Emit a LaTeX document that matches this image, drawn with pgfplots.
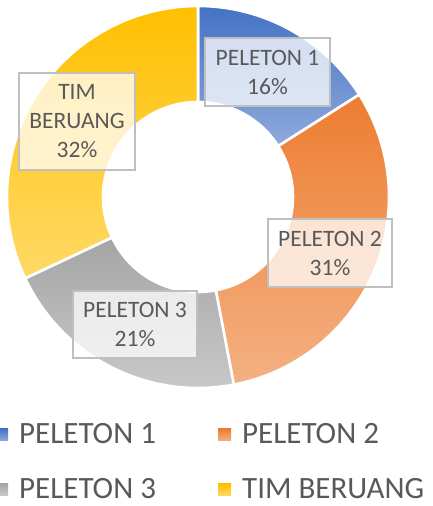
\documentclass[border=0pt]{standalone}
\usepackage{pgfplots}
\pgfplotsset{compat=1.18}
\usepackage{pgfplotstable}
\usepackage{fontspec}
\setmainfont{Carlito}
\definecolor{txt}{HTML}{595959}
\definecolor{bordc}{HTML}{BFBFBF}
\definecolor{bA}{HTML}{4472C4}\definecolor{bB}{HTML}{8FAADC}
\definecolor{oA}{HTML}{ED7D31}\definecolor{oB}{HTML}{F4B183}
\definecolor{gA}{HTML}{A5A5A5}\definecolor{gB}{HTML}{CBCBCB}
\definecolor{yA}{HTML}{FFC000}\definecolor{yB}{HTML}{FFD966}
\pgfplotstableread[col sep=comma]{
label,pct
PELETON 1,16
PELETON 2,31
PELETON 3,21
TIM BERUANG,32
}\shares
\newcommand\wedgepath[4]{%
  \path[top color=#3, bottom color=#4, draw=white, line width=2.6pt]
    ([shift={(#1:191pt)}]C) arc[start angle=#1, end angle=#2, radius=191pt]
    -- ([shift={(#2:95pt)}]C) arc[start angle=#2, end angle=#1, radius=95pt] -- cycle;}
\tikzset{lbl/.style={draw=bordc, line width=1.3pt, fill=white, fill opacity=0.75,
  text opacity=1, text=txt, align=center, inner sep=0pt,
  font=\fontsize{23.5}{29}\selectfont},
  leg/.style={anchor=base west, inner sep=0pt, text=txt, font=\fontsize{31}{36}\selectfont}}
\begin{document}%
\pgfplotstablegetelem{0}{pct}\of\shares \let\pA\pgfplotsretval%
\pgfplotstablegetelem{1}{pct}\of\shares \let\pB\pgfplotsretval%
\pgfplotstablegetelem{2}{pct}\of\shares \let\pC\pgfplotsretval%
\pgfplotstablegetelem{3}{pct}\of\shares \let\pD\pgfplotsretval%
\pgfmathsetmacro\aA{90}%
\pgfmathsetmacro\aB{\aA-3.6*\pA}%
\pgfmathsetmacro\aC{\aB-3.6*\pB}%
\pgfmathsetmacro\aD{\aC-3.6*\pC}%
\pgfmathsetmacro\aE{\aD-3.6*\pD}%
\begin{tikzpicture}
\begin{axis}[width=432pt, height=506pt, scale only axis, at={(0pt,0pt)}, anchor=south west,
  xmin=0, xmax=432, ymin=0, ymax=506, hide axis, clip=false]
\coordinate (C) at (axis cs:198,309);
\wedgepath{\aA}{\aB}{bA}{bB}
\wedgepath{\aB}{\aC}{oA}{oB}
\wedgepath{\aC}{\aD}{gA}{gB}
\wedgepath{\aD}{\aE}{yA}{yB}
\node[lbl, minimum width=125pt, minimum height=68pt] at (axis cs:267.5,434) {PELETON 1\\\pA\%};
\node[lbl, minimum width=124pt, minimum height=68pt] at (axis cs:330,253) {PELETON 2\\\pB\%};
\node[lbl, minimum width=124pt, minimum height=67pt] at (axis cs:135,181.5) {PELETON 3\\\pC\%};
\node[lbl, minimum width=116pt, minimum height=97pt] at (axis cs:77,384.5) {TIM\\BERUANG\\\pD\%};
% legend
\path[top color=bA, bottom color=bB] (axis cs:0,65) rectangle (axis cs:8,77);
\node[leg] at (axis cs:19,62) {PELETON 1};
\path[top color=oA, bottom color=oB] (axis cs:218,65) rectangle (axis cs:231,77);
\node[leg] at (axis cs:242,62) {PELETON 2};
\path[top color=gA, bottom color=gB] (axis cs:0,10) rectangle (axis cs:8,22);
\node[leg] at (axis cs:19,7) {PELETON 3};
\path[top color=yA, bottom color=yB] (axis cs:218,10) rectangle (axis cs:231,22);
\node[leg] at (axis cs:242,7) {TIM BERUANG};
\end{axis}
\pgfresetboundingbox
\path[use as bounding box] (0pt,0pt) rectangle (432pt,506pt);
\end{tikzpicture}%
\end{document}
